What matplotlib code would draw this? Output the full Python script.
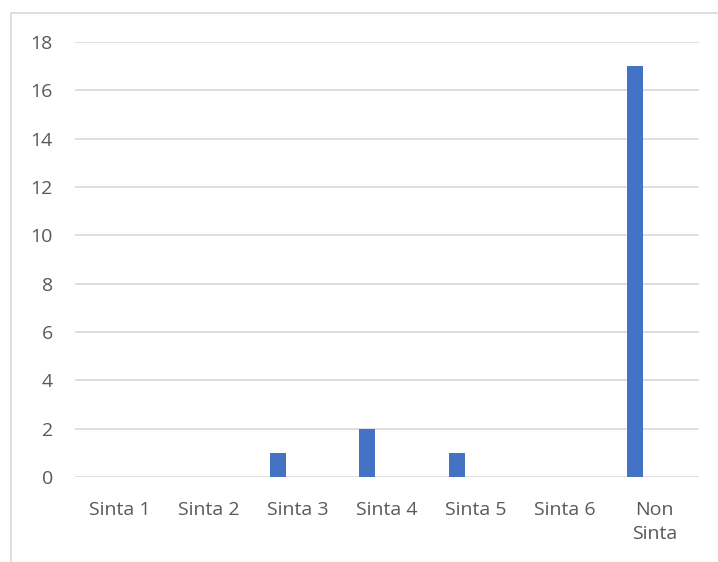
import matplotlib.pyplot as plt
from matplotlib.patches import Rectangle

categories = ['Sinta 1', 'Sinta 2', 'Sinta 3', 'Sinta 4', 'Sinta 5', 'Sinta 6', 'Non\nSinta']
values = [0, 0, 1, 2, 1, 0, 17]
yticks = [0, 2, 4, 6, 8, 10, 12, 14, 16, 18]

plt.rcParams['font.family'] = ['Open Sans', 'DejaVu Sans']

fig = plt.figure(figsize=(7.18, 5.62), dpi=100)
ax = fig.add_axes([75 / 718, 1 - 477 / 562, 624 / 718, 435 / 562])

# outer chart frame (only left and top visible in the reference)
fig.patches.append(Rectangle((11 / 718, -0.1), 1.2, 1 - 13 / 562 + 0.1,
                             transform=fig.transFigure, fill=False,
                             edgecolor='#d9d9d9', linewidth=1.2))

x = list(range(len(categories)))
# bars sit left of the category centre (first slot of a clustered group)
ax.bar([i - 0.22 for i in x], values, width=0.18, color='#4472c4', zorder=3)

ax.set_xlim(-0.5, len(categories) - 0.5)
ax.set_ylim(0, 18)
ax.set_yticks(yticks)
ax.set_xticks(x)
ax.set_xticklabels(categories, linespacing=1.45)
ax.grid(axis='y', color='#d9d9d9', linewidth=1.2, zorder=0)
for s in ax.spines.values():
    s.set_visible(False)
ax.tick_params(length=0, colors='#595959', labelsize=14)
ax.tick_params(axis='y', pad=16)
ax.tick_params(axis='x', pad=17)

fig.savefig('out.png', dpi=100)
